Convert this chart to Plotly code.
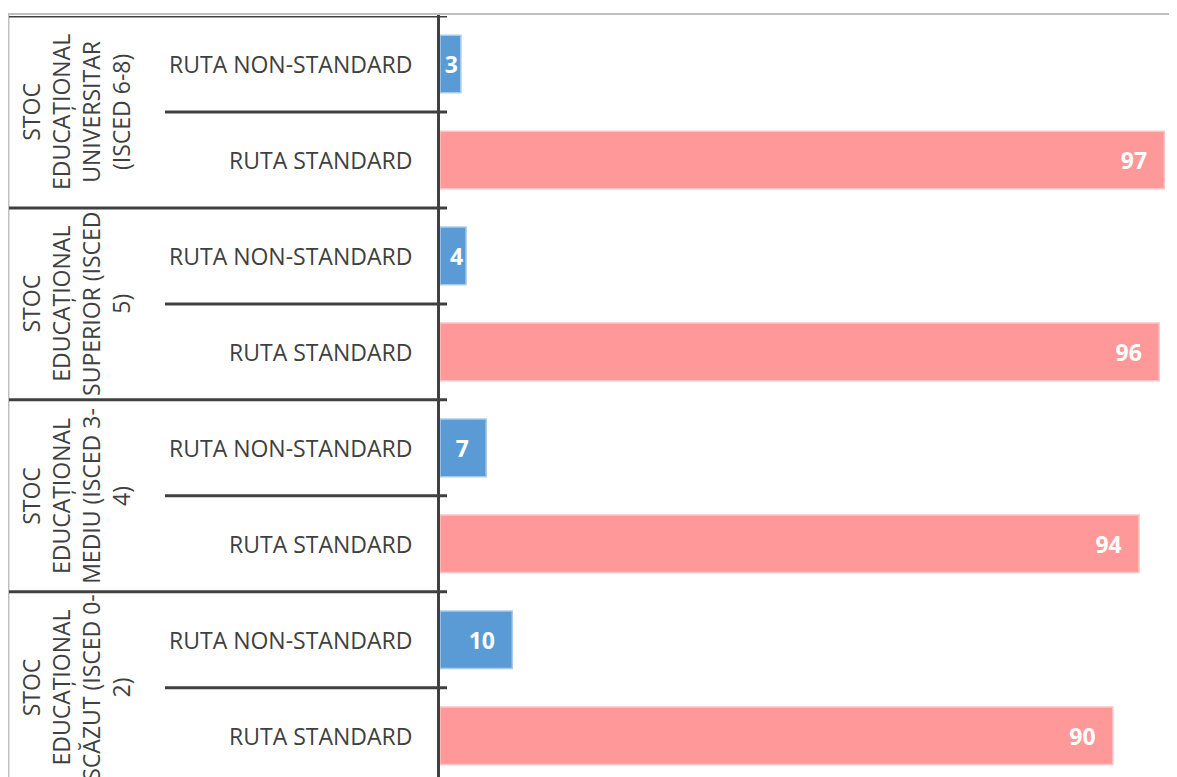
import plotly.graph_objects as go

groups = ["STOC<br>EDUCAȚIONAL<br>UNIVERSITAR<br>(ISCED 6-8)",
          "STOC<br>EDUCAȚIONAL<br>SUPERIOR (ISCED<br>5)",
          "STOC<br>EDUCAȚIONAL<br>MEDIU (ISCED 3-<br>4)",
          "STOC<br>EDUCAȚIONAL<br>SCĂZUT (ISCED 0-<br>2)"]
subcats = ["RUTA NON-STANDARD", "RUTA STANDARD"]
# bar lengths as measured in the picture (percent)
non_standard = [2.8, 3.5, 6.2, 9.7]
standard = [97.2, 96.5, 93.8, 90.3]
# data labels as printed on the bars
non_standard_labels = ["3", "4", "7", "10"]
standard_labels = ["97", "96", "94", "90"]

OFF = 8  # page body margin
W, H = 1177 - OFF, 777 - OFF
L, T = 440 - OFF, 16 - OFF
PW = W - L
PH = H - T
FONT = "Open Sans"
DARK = "#404040"


def px(xp):
    # page x pixel -> paper coordinate
    return (xp - OFF - L) / PW


def py(yp):
    return 1 - (yp - OFF - T) / PH


def label(txt, v):
    # Excel-like inside-end label: extra margin when the bar is wide enough
    pad = "\u00a0\u00a0\u200a" if v >= 5 else ""
    return f"{txt}{pad}"


fig = go.Figure()
ns_pos = [2 * i for i in range(len(groups))]
st_pos = [2 * i + 1 for i in range(len(groups))]

fig.add_trace(go.Bar(
    y=ns_pos, x=non_standard, orientation="h",
    marker=dict(color="#5B9BD5", line=dict(color="#A9CBEB", width=1.5)),
    text=[label(t, v) for t, v in zip(non_standard_labels, non_standard)],
    textposition="inside", insidetextanchor="end", constraintext="none",
    textfont=dict(family=FONT, size=23, color="white", weight="bold"),
    width=0.6, showlegend=False, hoverinfo="x"))
fig.add_trace(go.Bar(
    y=st_pos, x=standard, orientation="h",
    marker=dict(color="#FF9999", line=dict(color="#FFC2C2", width=1.5)),
    text=[label(t, v) for t, v in zip(standard_labels, standard)],
    textposition="inside", insidetextanchor="end", constraintext="none",
    textfont=dict(family=FONT, size=23, color="white", weight="bold"),
    width=0.6, showlegend=False, hoverinfo="x"))

shapes = []
annotations = []
# chart border (light gray)
shapes.append(dict(type="line", xref="paper", yref="paper", x0=px(8), x1=px(1190),
                   y0=py(14), y1=py(14), line=dict(color="#BFBFBF", width=2)))
shapes.append(dict(type="line", xref="paper", yref="paper", x0=px(8.5), x1=px(8.5),
                   y0=py(14), y1=py(790), line=dict(color="#BFBFBF", width=2)))
# top dark line
shapes.append(dict(type="line", xref="paper", yref="y", x0=px(9), x1=px(447),
                   y0=-0.5, y1=-0.5, line=dict(color=DARK, width=3)))
for i, g in enumerate(groups):
    if 2 * i + 1.5 < 7.4:
        shapes.append(dict(type="line", xref="paper", yref="y", x0=px(9), x1=px(447),
                           y0=2 * i + 1.5, y1=2 * i + 1.5, line=dict(color=DARK, width=3)))
    shapes.append(dict(type="line", xref="paper", yref="y", x0=px(165), x1=px(447),
                       y0=2 * i + 0.5, y1=2 * i + 0.5, line=dict(color=DARK, width=3)))
    annotations.append(dict(xref="paper", yref="y", x=px(76), y=2 * i + 0.5,
                            text=g, textangle=-90, showarrow=False, align="center",
                            xanchor="center", yanchor="middle",
                            font=dict(family=FONT, size=23, color=DARK)))
    for j, s in enumerate(subcats):
        annotations.append(dict(xref="paper", yref="y", x=px(414), y=2 * i + j,
                                text=s, showarrow=False, xanchor="right", yanchor="middle",
                                font=dict(family=FONT, size=23, color=DARK)))
# vertical axis line
shapes.append(dict(type="line", xref="paper", yref="paper", x0=px(438.5), x1=px(438.5),
                   y0=py(15), y1=py(790), line=dict(color=DARK, width=3)))

fig.update_layout(
    width=W, height=H,
    margin=dict(l=L, r=0, t=T, b=0),
    paper_bgcolor="white", plot_bgcolor="white",
    barmode="overlay",
    xaxis=dict(range=[0, 98.9], showgrid=False, showticklabels=False, zeroline=False,
               ticks="", showline=False),
    yaxis=dict(range=[7.43, -0.5], showgrid=False, showticklabels=False, zeroline=False,
               ticks="", showline=False),
    shapes=shapes, annotations=annotations,
    uniformtext=dict(minsize=23, mode="show"),
    font=dict(family=FONT),
)

fig.write_html("out.html")
